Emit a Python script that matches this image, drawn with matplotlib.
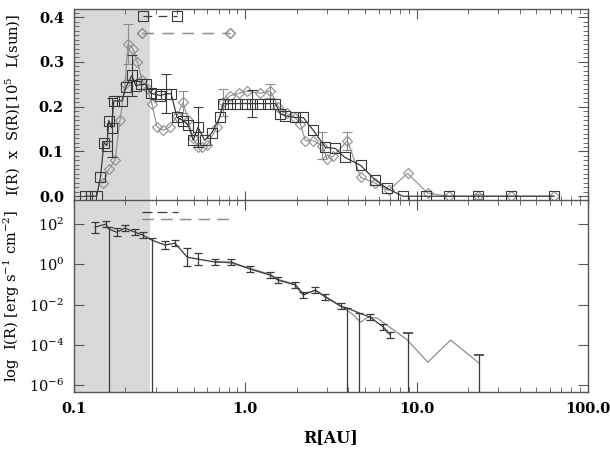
import matplotlib
matplotlib.use('Agg')
import matplotlib.pyplot as plt
from matplotlib.lines import Line2D
from matplotlib.ticker import MultipleLocator, NullLocator, LogLocator
import numpy as np

plt.rcParams['font.family'] = 'DejaVu Serif'
plt.rcParams['mathtext.fontset'] = 'dejavuserif'

# inner region that is shaded in both panels
inner_edge = 0.28

# upper panel: I(R) x S(R), squares
sq_r = [0.116, 0.126, 0.136, 0.143, 0.150, 0.156, 0.160, 0.166, 0.171, 0.191,
        0.201, 0.218, 0.230, 0.248, 0.264, 0.282, 0.30, 0.32, 0.345, 0.37,
        0.40, 0.434, 0.464, 0.497, 0.53, 0.58, 0.64, 0.71, 0.744, 0.817,
        0.898, 1.0, 1.10, 1.22, 1.35, 1.50, 1.60, 1.71, 1.96, 2.18,
        2.50, 2.94, 3.35, 3.8, 4.71, 5.75, 6.7, 8.3, 11.3, 15.4,
        22.7, 35.5, 63.2]
sq_v = [0.0, 0.0, 0.0, 0.042, 0.12, 0.113, 0.169, 0.153, 0.213, 0.213,
        0.243, 0.27, 0.247, 0.25, 0.25, 0.23, 0.228, 0.225, 0.229, 0.229,
        0.176, 0.169, 0.16, 0.125, 0.154, 0.125, 0.142, 0.176, 0.207, 0.207,
        0.207, 0.207, 0.207, 0.207, 0.207, 0.207, 0.184, 0.18, 0.176, 0.176,
        0.147, 0.109, 0.107, 0.087, 0.069, 0.036, 0.018, 0.0, 0.0, 0.0,
        0.0, 0.0, 0.0]
sq_err = [0, 0, 0, 0, 0, 0, 0, 0.066, 0, 0,
          0, 0.045, 0, 0, 0, 0, 0, 0, 0.043, 0,
          0, 0, 0, 0, 0.045, 0, 0, 0, 0, 0,
          0, 0, 0.03, 0, 0, 0, 0, 0, 0, 0,
          0, 0, 0, 0, 0, 0, 0, 0, 0, 0,
          0, 0, 0]

# upper panel: diamonds
dm_r = [0.148, 0.160, 0.174, 0.186, 0.199, 0.207, 0.221, 0.235, 0.250, 0.270,
        0.286, 0.306, 0.331, 0.364, 0.40, 0.434, 0.464, 0.497, 0.53, 0.56,
        0.60, 0.686, 0.744, 0.82, 0.92, 1.03, 1.22, 1.40, 1.56, 1.75,
        1.96, 2.10, 2.24, 2.50, 2.82, 3.0, 3.27, 3.95, 4.71, 5.75,
        6.86, 8.85, 11.6, 15.4, 22.7, 35.5, 63.2]
dm_v = [0.03, 0.06, 0.08, 0.17, 0.25, 0.34, 0.33, 0.30, 0.26, 0.24,
        0.205, 0.155, 0.147, 0.155, 0.18, 0.21, 0.17, 0.13, 0.11, 0.11,
        0.115, 0.155, 0.21, 0.225, 0.23, 0.235, 0.23, 0.235, 0.20, 0.185,
        0.175, 0.162, 0.124, 0.124, 0.113, 0.084, 0.09, 0.124, 0.042, 0.029,
        0.013, 0.051, 0.007, 0.0, 0.0, 0.0, 0.0]
dm_err = [0, 0, 0, 0, 0, 0.045, 0, 0, 0, 0,
          0, 0, 0, 0, 0, 0.025, 0, 0, 0, 0,
          0, 0, 0.03, 0, 0, 0, 0, 0.015, 0, 0,
          0, 0, 0, 0, 0.03, 0, 0, 0.02, 0, 0,
          0, 0, 0, 0, 0.006, 0, 0]

# lower panel: log I(R), binned profile with errors (dex)
lg_r = [0.133, 0.154, 0.160, 0.178, 0.199, 0.227, 0.253, 0.286, 0.341, 0.39,
        0.458, 0.53, 0.668, 0.83, 1.07, 1.40, 1.56, 1.96, 2.18, 2.57,
        2.94, 3.6, 3.95, 4.64, 5.35, 6.4, 7.0]
lg_v = [1.85, 2.0, 1.75, 1.6, 1.8, 1.6, 1.45, 1.2, 0.96, 1.05,
        0.36, 0.26, 0.11, 0.11, -0.24, -0.54, -0.79, -1.03, -1.53, -1.28,
        -1.63, -2.08, -2.18, -2.43, -2.63, -3.12, -3.5]
lg_lo = [0.27, 0.15, 9.0, 0.2, 0.15, 0.15, 0.15, 9.0, 0.2, 0.15,
         0.45, 0.3, 0.15, 0.15, 0.15, 0.15, 0.15, 0.15, 0.15, 0.15,
         0.15, 0.15, 9.0, 9.0, 0.15, 0.15, 0.15]
lg_hi = [0.27, 0.15, 0.1, 0.2, 0.15, 0.15, 0.15, 0.1, 0.2, 0.15,
         0.45, 0.3, 0.15, 0.15, 0.15, 0.15, 0.15, 0.15, 0.15, 0.15,
         0.15, 0.15, 0.0, 0.0, 0.15, 0.15, 0.15]

# lower panel: second profile reaching the outer disk
gr_r = [0.668, 0.83, 1.07, 1.40, 1.56, 1.96, 2.18, 2.57, 2.94, 3.6,
        4.3, 4.7, 5.2, 5.9, 8.85, 11.6, 15.8, 23.0]
gr_v = [0.15, 0.05, -0.2, -0.5, -0.75, -1.0, -1.45, -1.3, -1.6, -2.05,
        -2.53, -2.88, -2.63, -2.68, -3.77, -4.87, -3.77, -4.9]
gr_lo = [0, 0, 0, 0, 0, 0, 0, 0, 0, 0,
         0, 0, 0, 0, 9.0, 0, 0, 9.0]
gr_hi = [0, 0, 0, 0, 0, 0, 0, 0, 0, 0,
         0, 0, 0, 0, 0.35, 0, 0, 0.4]

dark = '#3a3a3a'
grey = '#8e8e8e'
shade = '#d9d9d9'
spine = '#555555'

fig = plt.figure(figsize=(6.1, 4.49), dpi=100)
ax1 = fig.add_axes([0.121, 0.552, 0.843, 0.4276])
ax2 = fig.add_axes([0.121, 0.127, 0.843, 0.4276], sharex=ax1)

for ax in (ax1, ax2):
    ax.set_xscale('log')
    ax.axvspan(0.1, inner_edge, color=shade, lw=0, zorder=0)
    for s in ax.spines.values():
        s.set_color(spine)
        s.set_linewidth(1.0)
    ax.tick_params(which='both', direction='in', top=True, right=True,
                   color=spine)
    ax.tick_params(which='major', length=7)
    ax.tick_params(which='minor', length=3.5)

# upper panel
sq_r, sq_v, sq_err = map(np.array, (sq_r, sq_v, sq_err))
dm_r, dm_v, dm_err = map(np.array, (dm_r, dm_v, dm_err))
ax1.plot(dm_r, dm_v, color=grey, lw=0.8, marker='D', ms=5.5, mfc='none',
         mec=grey, mew=0.8, zorder=2)
m = dm_err > 0
ax1.errorbar(dm_r[m], dm_v[m], yerr=dm_err[m], fmt='none', ecolor=grey,
             elinewidth=0.8, capsize=3.5, capthick=0.8, zorder=2)
ax1.plot(sq_r, sq_v, color=dark, lw=0.9, marker='s', ms=7, mfc='none',
         mec=dark, mew=0.8, zorder=3)
m = sq_err > 0
ax1.errorbar(sq_r[m], sq_v[m], yerr=sq_err[m], fmt='none', ecolor=dark,
             elinewidth=0.8, capsize=3.5, capthick=0.8, zorder=3)

ax1.set_xlim(0.1, 100)
ax1.set_ylim(-0.011, 0.418)
ax1.set_yticks([0.0, 0.1, 0.2, 0.3, 0.4])
ax1.set_yticklabels(['0.0', '0.1', '0.2', '0.3', '0.4'])
ax1.yaxis.set_minor_locator(MultipleLocator(0.01))
ax1.tick_params(axis='x', labelbottom=False)
ax1.set_ylabel('I(R)  x  S(R)[10$^5$  L(sun)]', fontsize=10.5)
ax1.yaxis.set_label_coords(-0.1, 0.5)

# lower panel
lg_r, lg_v, lg_lo, lg_hi = map(np.array, (lg_r, lg_v, lg_lo, lg_hi))
gr_r, gr_v, gr_lo, gr_hi = map(np.array, (gr_r, gr_v, gr_lo, gr_hi))
lin = 10.0 ** lg_v
ax2.plot(gr_r, 10.0 ** gr_v, color=grey, lw=0.9, zorder=2)
m = (gr_lo + gr_hi) > 0
glin = 10.0 ** gr_v[m]
ax2.errorbar(gr_r[m], glin,
             yerr=[glin - glin * 10.0 ** -gr_lo[m], glin * 10.0 ** gr_hi[m] - glin],
             fmt='none', ecolor=dark, elinewidth=0.9, capsize=3.5, capthick=1.2,
             zorder=3)
ax2.errorbar(lg_r, lin, yerr=[lin - lin * 10.0 ** -lg_lo, lin * 10.0 ** lg_hi - lin],
             color=dark, lw=0.9, ecolor=dark, elinewidth=0.9, capsize=3,
             capthick=0.9, zorder=3)

ax2.set_yscale('log')
ax2.set_ylim(10 ** -6.35, 10 ** 3.2)
ax2.set_yticks([1e-6, 1e-4, 1e-2, 1e0, 1e2])
ax2.set_yticklabels(['$10^{-6}$', '$10^{-4}$', '$10^{-2}$', '$10^{0}$', '$10^{2}$'])
ax2.yaxis.set_minor_locator(NullLocator())
ax2.set_xticks([0.1, 1, 10, 100])
ax2.set_xticklabels(['0.1', '1.0', '10.0', '100.0'])
ax2.xaxis.set_minor_locator(LogLocator(base=10, subs=np.arange(2, 10)))
ax2.set_xlim(0.1, 100)
ax2.set_ylabel('log  I(R) [erg s$^{-1}$ cm$^{-2}$]', fontsize=10.5)
ax2.yaxis.set_label_coords(-0.1, 0.5)
ax2.set_xlabel('R[AU]', fontsize=11.5, fontweight='bold')
ax2.xaxis.set_label_coords(0.5, -0.195)

for ax in (ax1, ax2):
    for lab in ax.get_xticklabels() + ax.get_yticklabels():
        lab.set_fontweight('bold')
        lab.set_fontsize(10.5)
    ax.tick_params(axis='both', which='major', pad=7)


# unlabelled keys in the upper-left corner of each panel
def key(ax, handle, length, x, y, npts):
    leg = ax.legend([handle], [''], loc='upper left', bbox_to_anchor=(x, y),
                    frameon=False, handlelength=length, borderpad=0,
                    borderaxespad=0, handletextpad=0, numpoints=npts,
                    fontsize=9)
    ax.add_artist(leg)


key(ax1, Line2D([], [], color=dark, lw=0.9, ls=(0, (7, 5)), marker='s', ms=7,
                mfc='none', mec=dark, mew=0.8), 3.3, 0.128, 0.995, 2)
key(ax1, Line2D([], [], color=grey, lw=0.9, ls=(0, (9, 7)), marker='D', ms=5.5,
                mfc='none', mec=grey, mew=0.8), 7.6, 0.126, 0.906, 2)
key(ax2, Line2D([], [], color=dark, lw=0.9, ls=(0, (8, 4))), 2.9, 0.132, 0.969, 1)
key(ax2, Line2D([], [], color=grey, lw=0.9, ls=(0, (9, 6))), 7.3, 0.132, 0.932, 1)

fig.savefig('out.png', dpi=100)
